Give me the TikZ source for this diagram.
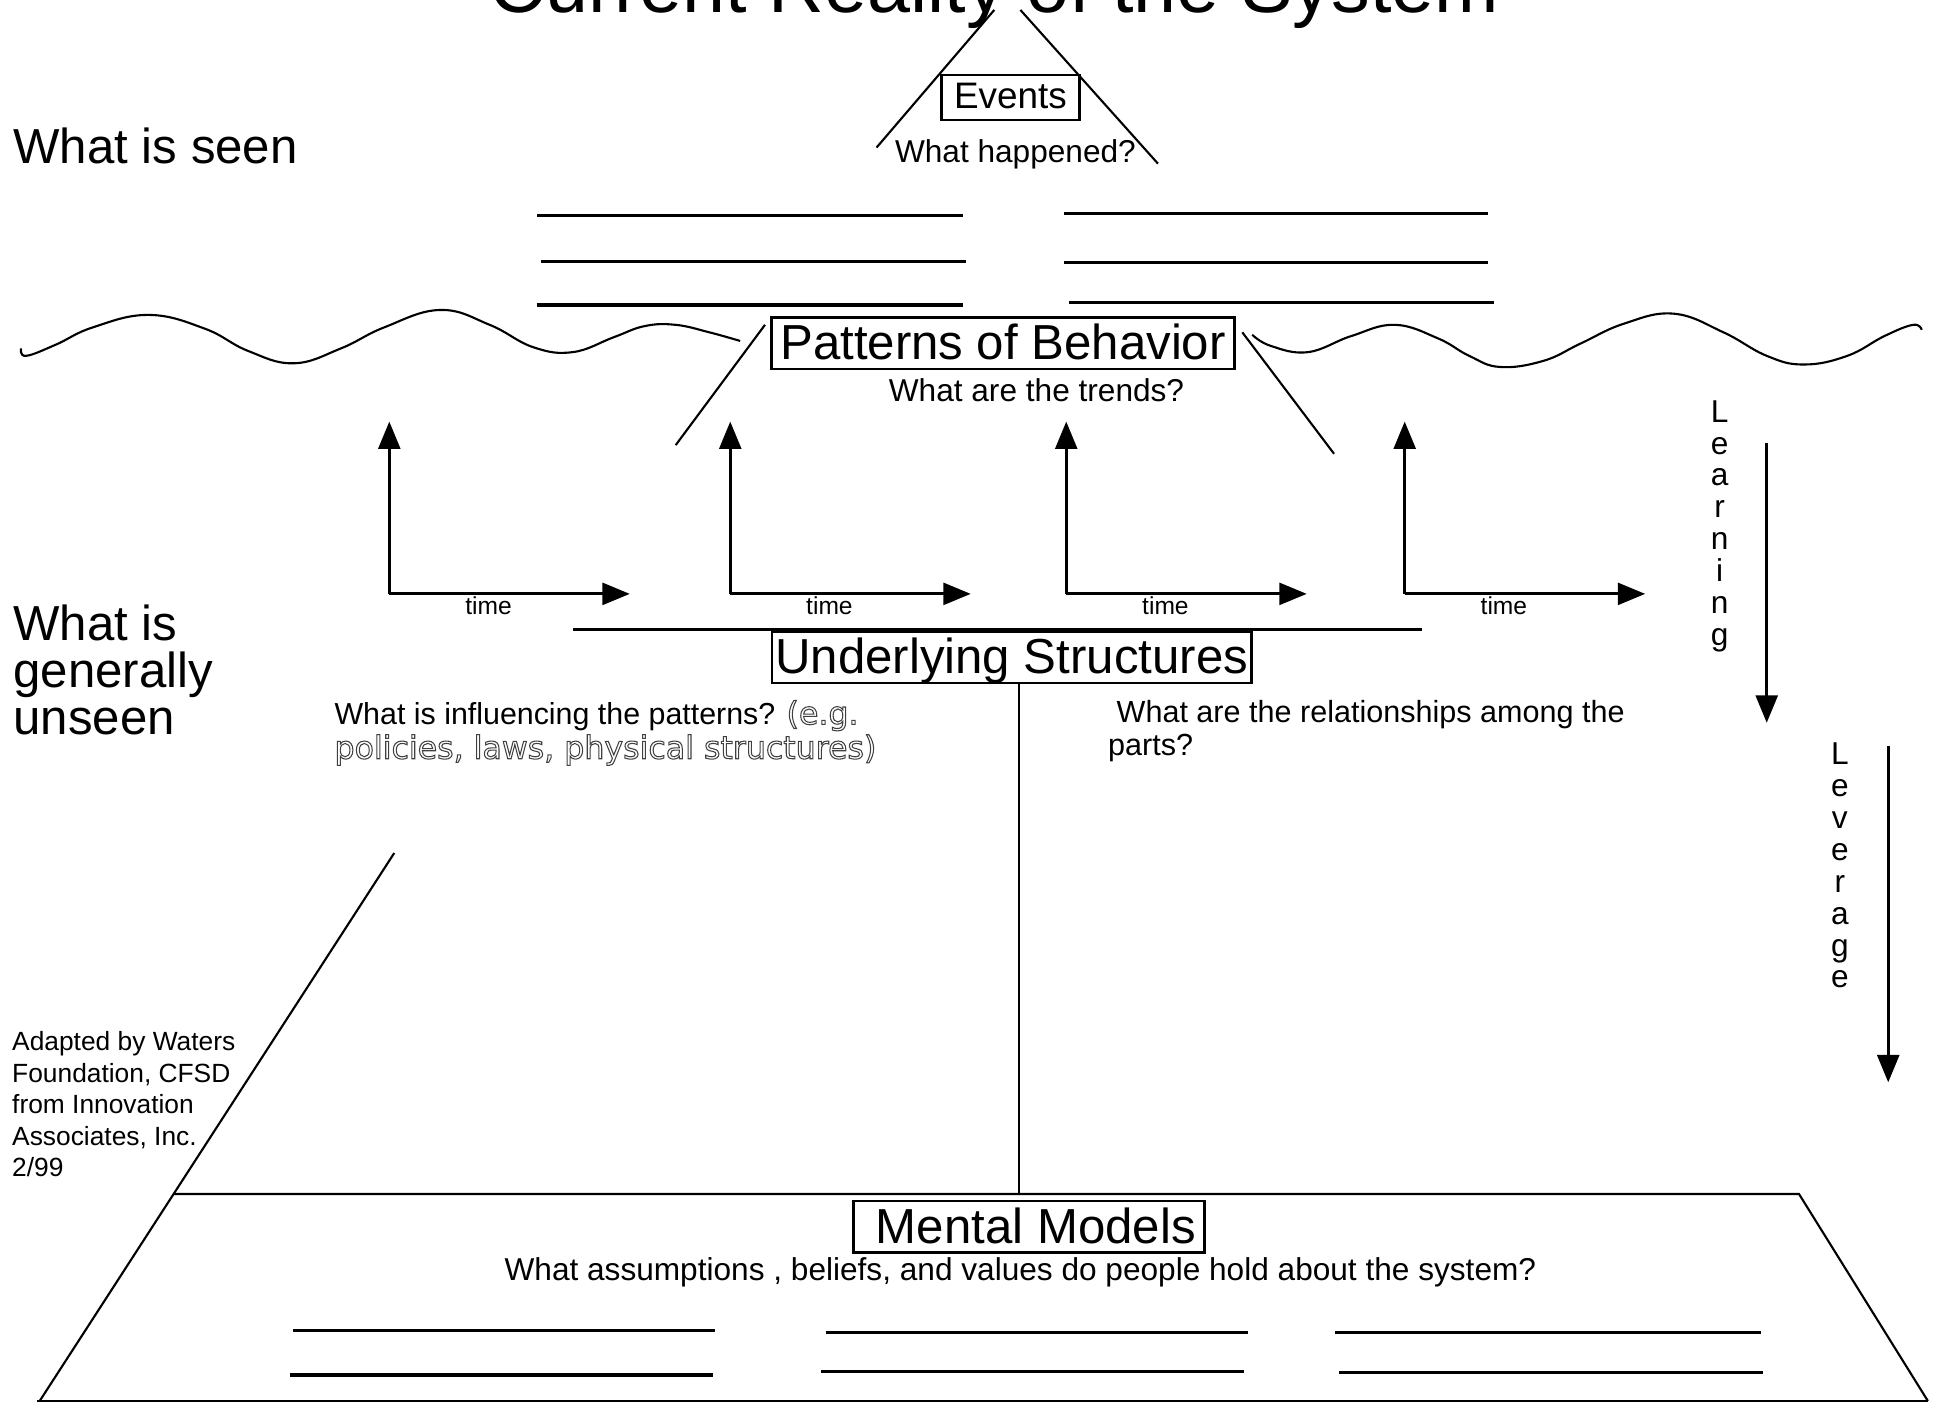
\documentclass[tikz,border=0pt]{standalone}
\usepackage{fontspec}
\setmainfont{Liberation Sans}
\newfontfamily\widefont{DejaVu Sans}
\usetikzlibrary{arrows.meta}
\newcommand{\hollow}[1]{{\widefont\fontsize{9}{9.8}\selectfont\color{black!75}\special{pdf:literal direct 1 Tr 0.3 w}#1\special{pdf:literal direct 0 Tr}}}

\begin{document}
\begin{tikzpicture}[x=0.0124cm,y=-0.0124cm,line width=.6pt,
	level/.style={draw,line width=.7pt,inner sep=0pt,inner xsep=2.5pt,text height=12pt,text depth=2.7pt,font=\fontsize{14}{16}\selectfont},
	ask/.style={inner sep=0pt,font=\fontsize{9}{9.8}\selectfont},
	blank/.style={line width=.9pt},
	axis/.style={line width=.9pt,-{Triangle[length=7.8pt,width=6.2pt]}},
	spell/.style={align=center,inner sep=0pt,anchor=north,font=\fontsize{9}{9.1}\selectfont}]
		\useasboundingbox (0,0) rectangle (1568,1133);
		\node[anchor=base,inner sep=0pt,font=\fontsize{22}{26}\selectfont] (title) at (802,10) {Current Reality of the System};
		\node[anchor=base west,inner sep=0pt,font=\fontsize{14}{16}\selectfont] (seen) at (10,132) {What is seen};
		\node[align=left,anchor=north west,inner sep=0pt,font=\fontsize{14}{13.4}\selectfont] (unseen) at (10,487) {What is\\generally\\unseen};
		\node[align=left,anchor=north west,inner sep=0pt,font=\fontsize{7.5}{9}\selectfont] (credit) at (9,831) {Adapted by Waters\\Foundation, CFSD\\from Innovation\\Associates, Inc.\\2/99};
		\node[draw,line width=.7pt,inner sep=0pt,inner xsep=3.6pt,text height=9.6pt,text depth=3.2pt,font=\fontsize{10.5}{12}\selectfont] (events) at (815,78.5) {Events};
		\draw (802,8) -- (707,119);
		\draw (823,8) -- (934,132);
		\node[ask,anchor=base] (happened) at (819,131) {What happened?};
		\draw[blank] (433,174) -- (777,174);
		\draw[blank] (436,211) -- (779,211);
		\draw[blank] (433,246) -- (777,246);
		\draw[blank] (858,172) -- (1200,172);
		\draw[blank] (858,212) -- (1200,212);
		\draw[blank] (862,244) -- (1205,244);
		\draw plot[smooth,tension=.7] coordinates {(17,281) (21,287) (45,278) (75,264) (120,254) (165,265) (200,283) (237,293) (275,281) (310,264) (355,250) (395,262) (430,280) (462,284) (495,272) (520,263) (545,262) (572,268) (597,275)};
		\draw plot[smooth,tension=.7] coordinates {(1010,270) (1025,279) (1055,284) (1090,271) (1125,262) (1160,273) (1185,287) (1210,296) (1245,291) (1275,277) (1310,261) (1350,253) (1390,268) (1425,287) (1455,294) (1490,287) (1520,271) (1543,262) (1550,266)};
		\node[level] (pattern) at (809,277) {Patterns of Behavior};
		\draw (617,262) -- (545,359);
		\draw (1002,268) -- (1076,366);
		\node[ask,anchor=base] (trends) at (836,324) {What are the trends?};
		\foreach \ii/\xx in {1/314,2/589,3/860,4/1133}
		{
			\coordinate (o\ii) at (\xx,479);
			\draw[axis] (o\ii) -- ++(0,-139);
			\draw[axis] (o\ii) -- ++(194,0);
			\node[inner sep=0pt,anchor=base,font=\fontsize{7}{8}\selectfont] (time\ii) at (\xx+80,496) {time};
		}
		\draw[blank] (462,508) -- (1147,508);
		\node[level,inner xsep=1pt] (structure) at (816,530) {Underlying Structures};
		\node[ask,align=left,anchor=north west,font=\fontsize{8.65}{9.8}\selectfont] (influence) at (269,564) {What is influencing the patterns? \hollow{(e.g.}\\\hollow{policies, laws, physical structures)}};
		\node[ask,align=left,anchor=north west,font=\fontsize{8.7}{9.5}\selectfont] (relation) at (893,564) {\ What are the relationships among the\\parts?};
		\coordinate (mmtop) at (822,963);
		\draw (structure.south -| mmtop) -- (mmtop);
		\draw (318,688) -- (32,1130);
		\draw (140,963) -- (1451,963) -- (1555,1130);
		\draw (30,1130) -- (1555,1130);
		\node[level] (mental) at (830,989.5) {\ Mental Models};
		\node[ask,anchor=base] (assume) at (823,1033) {What assumptions , beliefs, and values do people hold about the system?};
		\draw[blank] (236,1073) -- (577,1073);
		\draw[blank] (666,1075) -- (1007,1075);
		\draw[blank] (1077,1075) -- (1420,1075);
		\draw[blank] (234,1109) -- (575,1109);
		\draw[blank] (662,1106) -- (1003,1106);
		\draw[blank] (1080,1107) -- (1422,1107);
		\node[spell] (learn) at (1387,322) {L\\e\\a\\r\\n\\i\\n\\g};
		\coordinate (learntop) at (1425,357);
		\coordinate (learnend) at (1425,583);
		\draw[axis] (learntop) -- (learnend);
		\node[spell] (lever) at (1484,598) {L\\e\\v\\e\\r\\a\\g\\e};
		\coordinate (levertop) at (1523,602);
		\coordinate (leverend) at (1523,873);
		\draw[axis] (levertop) -- (leverend);
	\end{tikzpicture}
\end{document}
